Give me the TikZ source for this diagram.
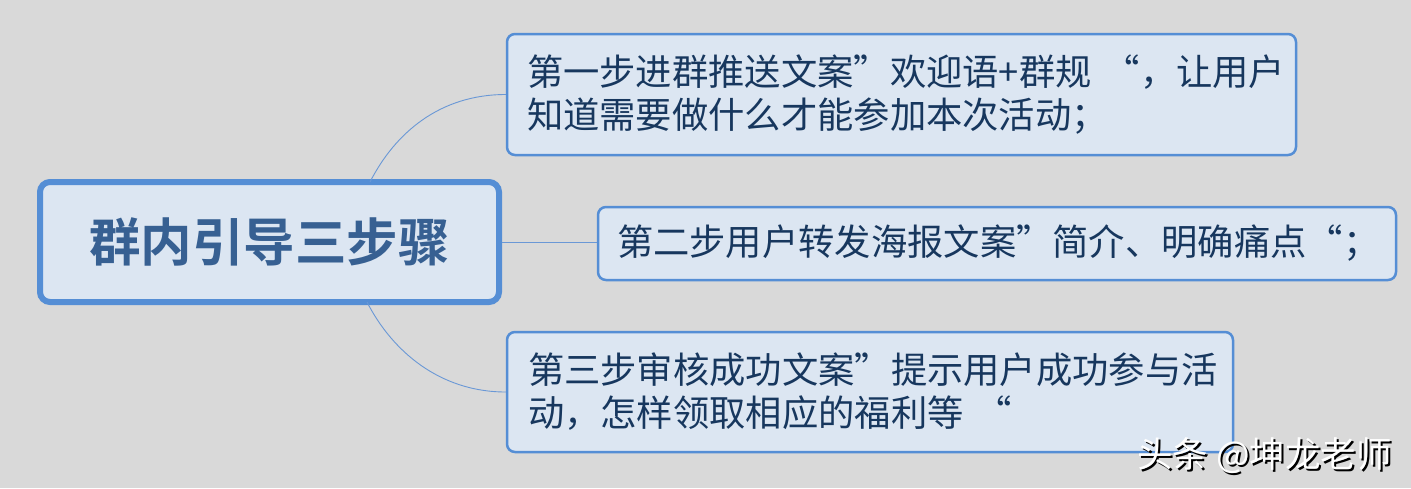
\documentclass[tikz,border=0pt]{standalone}
\usepackage{fontspec}
\setmainfont{Noto Sans CJK SC}
\newfontfamily\cjkbold{Noto Sans CJK SC Bold}
\definecolor{bgc}{HTML}{D9D9D9}
\definecolor{boxfill}{HTML}{DCE6F2}
\definecolor{boxline}{HTML}{558ED5}
\definecolor{roottext}{HTML}{376092}
\definecolor{leaftext}{HTML}{17375E}
\definecolor{linkc}{HTML}{6A98D6}
\begin{document}
\begin{tikzpicture}[x=1pt,y=-1pt,
  rootbox/.style={draw=boxline,line width=6pt,fill=boxfill,rounded corners=10pt,
    minimum width=459pt,minimum height=120pt,inner sep=0pt,
    font=\cjkbold\fontsize{51.5}{60}\selectfont,text=roottext},
  leafbox/.style={draw=boxline,line width=2.5pt,fill=boxfill,rounded corners=8pt,
    inner sep=0pt,align=left,
    font=\fontsize{36.3}{43}\selectfont,text=leaftext},
  link/.style={draw=linkc,line width=0.9pt},
  mark text/.style={anchor=west,inner sep=0pt,font=\fontsize{35.5}{40}\selectfont}]
\fill[bgc] (0,0) rectangle (1411,488);
\useasboundingbox (0,0) rectangle (1411,488);
\node[rootbox] (root) at (269.5,242) {群内引导三步骤};
\node[leafbox,minimum width=789pt,minimum height=121pt,text width=749pt] (b1) at (901.5,94.5)
  {第一步进群推送文案”欢迎语+群规~“，让用户\\知道需要做什么才能参加本次活动；};
\node[leafbox,minimum width=798pt,minimum height=73pt,text width=760pt] (b2) at (997,243.5)
  {第二步用户转发海报文案”简介、明确痛点“；};
\node[leafbox,minimum width=726pt,minimum height=120pt,text width=684pt] (b3) at (870,392)
  {第三步审核成功文案”提示用户成功参与活\\动，怎样领取相应的福利等~“};
\draw[link] ([xshift=100.5pt,yshift=-3pt]root.north) .. controls +(25,-49) and +(-66,0) .. (b1.west);
\draw[link] (root.east) -- (root.east -| b2.west);
\draw[link] ([xshift=97.5pt,yshift=3pt]root.south) .. controls +(25,49) and +(-66,0) .. (b3.west);
\node[mark text,text=black] (wms) at (1139,458) {头条 @坤龙老师};
\node[mark text,text=white] (wm) at (1137,456) {头条 @坤龙老师};
\end{tikzpicture}
\end{document}
